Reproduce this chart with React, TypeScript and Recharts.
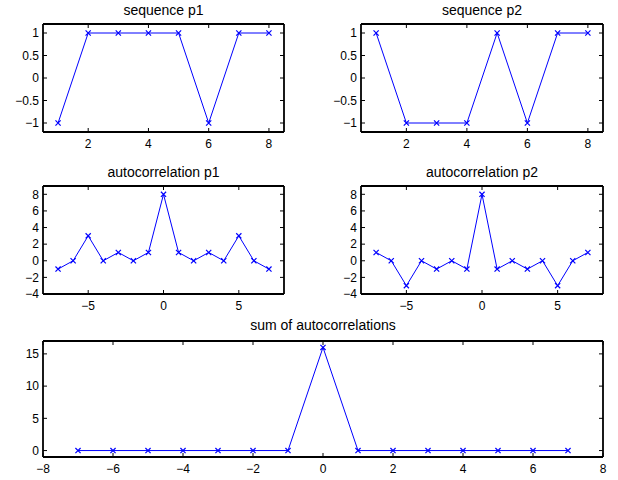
import React from 'react';
import { LineChart, Line, XAxis, YAxis } from 'recharts';

const FONT = '"Liberation Sans", Arial, Helvetica, sans-serif';
const BLUE = '#0000ff';

// sequences
const seqIdx = [1, 2, 3, 4, 5, 6, 7, 8];
const p1 = [-1, 1, 1, 1, 1, -1, 1, 1];
const p2 = [1, -1, -1, -1, 1, -1, 1, 1];

// autocorrelations
const lags = [-7, -6, -5, -4, -3, -2, -1, 0, 1, 2, 3, 4, 5, 6, 7];
const acf1 = [-1, 0, 3, 0, 1, 0, 1, 8, 1, 0, 1, 0, 3, 0, -1];
const acf2 = [1, 0, -3, 0, -1, 0, -1, 8, -1, 0, -1, 0, -3, 0, 1];
const acfSum = [0, 0, 0, 0, 0, 0, 0, 16, 0, 0, 0, 0, 0, 0, 0];

// tick labels
const seqXTicks = [2, 4, 6, 8];
const seqYTicks = [-1, -0.5, 0, 0.5, 1];
const acfXTicks = [-5, 0, 5];
const acfYTicks = [-4, -2, 0, 2, 4, 6, 8];
const sumXTicks = [-8, -6, -4, -2, 0, 2, 4, 6, 8];
const sumYTicks = [0, 5, 10, 15];

const toRows = (xs: number[], ys: number[]) => xs.map((x, i) => ({ x, y: ys[i] }));

const fmt = (v: number) => (v < 0 ? '\u2212' + String(-v) : String(v));

const TL = 4; // inward tick length

const BottomTick = (props: any) => {
  const { x, y, payload } = props;
  return (
    <g>
      <line x1={x} y1={y} x2={x} y2={y - TL} stroke="#000" />
      <text x={x} y={y + 16} textAnchor="middle" fontSize={12} fontFamily={FONT} fill="#000">
        {fmt(payload.value)}
      </text>
    </g>
  );
};

const TopTick = (props: any) => {
  const { x, y } = props;
  return <line x1={x} y1={y} x2={x} y2={y + TL} stroke="#000" />;
};

const LeftTick = (props: any) => {
  const { x, y, payload } = props;
  return (
    <g>
      <line x1={x} y1={y} x2={x + TL} y2={y} stroke="#000" />
      <text x={x - 4} y={y + 4.3} textAnchor="end" fontSize={12} fontFamily={FONT} fill="#000">
        {fmt(payload.value)}
      </text>
    </g>
  );
};

const RightTick = (props: any) => {
  const { x, y } = props;
  return <line x1={x} y1={y} x2={x - TL} y2={y} stroke="#000" />;
};

const XMark = (props: any) => {
  const { cx, cy, index } = props;
  const s = 2.6;
  return (
    <path
      key={'m' + index}
      d={`M${cx - s},${cy - s}L${cx + s},${cy + s}M${cx - s},${cy + s}L${cx + s},${cy - s}`}
      stroke={BLUE}
      strokeWidth={1.2}
      fill="none"
    />
  );
};

interface PanelProps {
  left: number;
  top: number;
  width: number;
  height: number;
  plot: { l: number; t: number; r: number; b: number };
  titleY: number;
  title: string;
  data: { x: number; y: number }[];
  xDomain: [number, number];
  xTicks: number[];
  yDomain: [number, number];
  yTicks: number[];
}

const Panel: React.FC<PanelProps> = ({ left, top, width, height, plot, titleY, title, data, xDomain, xTicks, yDomain, yTicks }) => {
  const axisLine = { stroke: '#000', strokeWidth: 1.8 };
  return (
    <>
      <div
        style={{
          position: 'absolute',
          left: plot.l,
          width: plot.r - plot.l,
          top: titleY - 8,
          height: 16,
          lineHeight: '16px',
          textAlign: 'center',
          fontFamily: FONT,
          fontSize: 14,
          color: '#000',
          whiteSpace: 'nowrap',
        }}
      >
        {title}
      </div>
      <div style={{ position: 'absolute', left, top, width, height }}>
        <LineChart width={width} height={height} data={data} margin={{ top: 0, right: 0, bottom: 0, left: 0 }}>
          <XAxis
            xAxisId="b"
            dataKey="x"
            type="number"
            orientation="bottom"
            domain={xDomain}
            ticks={xTicks}
            interval={0}
            allowDataOverflow
            height={top + height - plot.b}
            tickSize={0}
            tickMargin={0}
            tickLine={false}
            axisLine={axisLine}
            tick={<BottomTick />}
          />
          <XAxis
            xAxisId="t"
            dataKey="x"
            type="number"
            orientation="top"
            domain={xDomain}
            ticks={xTicks}
            interval={0}
            allowDataOverflow
            height={plot.t - top}
            tickSize={0}
            tickMargin={0}
            tickLine={false}
            axisLine={axisLine}
            tick={<TopTick />}
          />
          <YAxis
            yAxisId="l"
            type="number"
            orientation="left"
            domain={yDomain}
            ticks={yTicks}
            interval={0}
            allowDataOverflow
            width={plot.l - left}
            tickSize={0}
            tickMargin={0}
            tickLine={false}
            axisLine={axisLine}
            tick={<LeftTick />}
          />
          <YAxis
            yAxisId="r"
            type="number"
            orientation="right"
            domain={yDomain}
            ticks={yTicks}
            interval={0}
            allowDataOverflow
            width={left + width - plot.r}
            tickSize={0}
            tickMargin={0}
            tickLine={false}
            axisLine={axisLine}
            tick={<RightTick />}
          />
          <Line
            xAxisId="b"
            yAxisId="l"
            dataKey="y"
            type="linear"
            stroke={BLUE}
            strokeWidth={1}
            dot={XMark}
            activeDot={false}
            isAnimationActive={false}
          />
        </LineChart>
      </div>
    </>
  );
};

export default function App() {
  return (
    <div style={{ position: 'absolute', left: 0, top: 0, width: 618, height: 480, background: '#fff' }}>
      <Panel
        left={0} top={0} width={309} height={160}
        plot={{ l: 43, t: 24, r: 284, b: 132 }}
        titleY={10}
        title="sequence p1"
        data={toRows(seqIdx, p1)}
        xDomain={[0.5, 8.5]} xTicks={seqXTicks}
        yDomain={[-1.2, 1.2]} yTicks={seqYTicks}
      />
      <Panel
        left={309} top={0} width={309} height={160}
        plot={{ l: 361, t: 24, r: 603, b: 132 }}
        titleY={10}
        title="sequence p2"
        data={toRows(seqIdx, p2)}
        xDomain={[0.5, 8.5]} xTicks={seqXTicks}
        yDomain={[-1.2, 1.2]} yTicks={seqYTicks}
      />
      <Panel
        left={0} top={160} width={309} height={160}
        plot={{ l: 43, t: 186, r: 284, b: 294 }}
        titleY={172}
        title="autocorrelation p1"
        data={toRows(lags, acf1)}
        xDomain={[-8, 8]} xTicks={acfXTicks}
        yDomain={[-4, 9]} yTicks={acfYTicks}
      />
      <Panel
        left={309} top={160} width={309} height={160}
        plot={{ l: 361, t: 186, r: 603, b: 294 }}
        titleY={172}
        title="autocorrelation p2"
        data={toRows(lags, acf2)}
        xDomain={[-8, 8]} xTicks={acfXTicks}
        yDomain={[-4, 9]} yTicks={acfYTicks}
      />
      <Panel
        left={0} top={320} width={618} height={160}
        plot={{ l: 43, t: 341, r: 603, b: 457 }}
        titleY={325}
        title="sum of autocorrelations"
        data={toRows(lags, acfSum)}
        xDomain={[-8, 8]} xTicks={sumXTicks}
        yDomain={[-1, 17]} yTicks={sumYTicks}
      />
    </div>
  );
}
